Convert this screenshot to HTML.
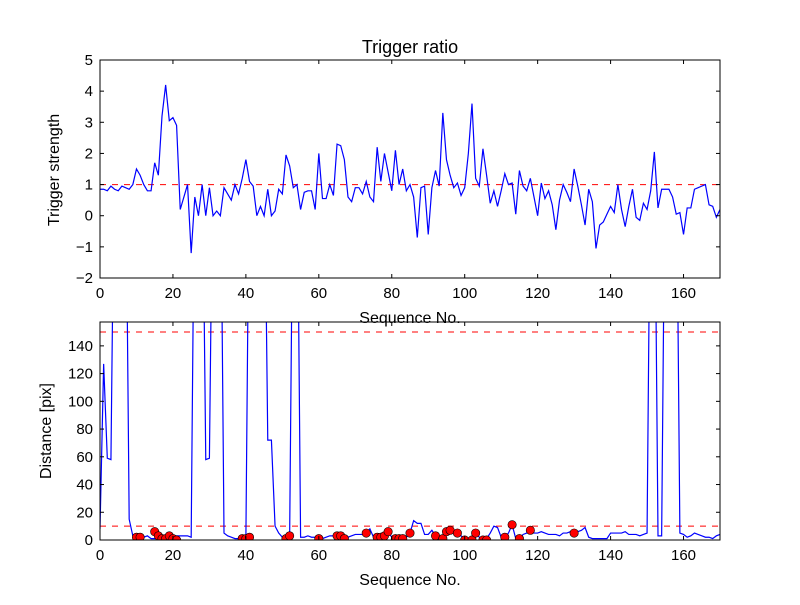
<!DOCTYPE html>
<html><head><meta charset="utf-8"><style>
body{margin:0;background:#fff}
svg text{font-family:"Liberation Sans","DejaVu Sans",sans-serif;fill:#000}
</style></head><body>
<svg id="s" width="800" height="600" xmlns="http://www.w3.org/2000/svg"></svg>
<script>
const S=document.getElementById('s');const NS='http://www.w3.org/2000/svg';
function el(t,a,txt){const e=document.createElementNS(NS,t);for(const k in a)e.setAttribute(k,a[k]);if(txt!=null)e.textContent=txt;S.appendChild(e);return e;}
const L=100,R=720;const xs=i=>L+i*(R-L)/170;
const T=[0.85,0.85,0.8,0.95,0.85,0.8,0.95,0.9,0.85,1.0,1.5,1.3,1.0,0.8,0.8,1.7,1.3,3.2,4.2,3.05,3.15,2.9,0.2,0.6,1.0,-1.2,0.6,0.0,1.0,0.0,0.9,0.0,0.15,0.0,0.9,0.7,0.5,1.0,0.7,1.2,1.8,1.1,0.95,0.0,0.3,0.0,0.85,0.0,0.15,0.85,0.7,1.95,1.6,0.9,1.0,0.2,0.75,0.8,0.8,0.2,2.0,0.55,0.55,1.0,0.65,2.3,2.25,1.8,0.6,0.45,0.9,0.9,0.7,1.1,0.6,0.45,2.2,1.1,2.0,1.4,0.8,2.1,1.0,1.5,0.8,1.0,0.6,-0.7,0.9,0.95,-0.6,0.9,1.45,0.95,3.3,1.8,1.3,0.9,1.05,0.65,0.9,2.0,3.6,1.2,0.95,2.15,1.3,0.4,0.8,0.3,0.8,1.35,1.0,1.05,0.05,1.45,0.95,0.8,1.2,0.6,0.0,1.05,0.55,0.8,0.35,-0.45,0.5,1.0,0.75,0.45,1.5,0.95,0.35,-0.3,0.85,0.45,-1.05,-0.3,-0.2,0.05,0.3,0.1,1.0,0.2,-0.35,0.3,0.85,-0.05,-0.15,0.4,0.2,0.8,2.05,0.25,0.85,0.85,0.85,0.6,0.05,0.1,-0.6,0.25,0.25,0.85,0.9,0.95,1.0,0.35,0.3,-0.05,0.2];
const ty=v=>60+(5-v)*218/7;
const T1=60,T2=278,B1=322,B2=540;
const by=v=>540-v*208/150;
el('defs',{}).innerHTML='<clipPath id="c1"><rect x="100" y="60" width="620" height="218"/></clipPath><clipPath id="c2"><rect x="100" y="322" width="620" height="218"/></clipPath>';
el('line',{x1:L,x2:R,y1:ty(1),y2:ty(1),stroke:'#f00','stroke-dasharray':'6,6','stroke-width':1});
el('polyline',{points:T.map((v,i)=>xs(i)+','+ty(v)).join(' '),fill:'none',stroke:'#00f','stroke-width':1.2,'clip-path':'url(#c1)'});
const B=new Array(171).fill(3);
const set=(o)=>{for(const k in o)B[k]=o[k];};
set({0:8,1:127,2:59,3:58,4:300,5:300,6:300,7:300,8:15,9:3,10:2,11:2,12:2,13:3,14:1,15:1,16:3,17:3,18:3,19:3,20:3,21:3,22:3,23:3,24:3,25:2,26:300,27:300,28:300,29:58,30:59,31:300,32:300,33:300,34:5,35:3,36:2,37:1,38:1,39:1,40:1,41:300,42:300,43:300,44:300,45:300,46:72,47:72,48:10,49:5,50:2,51:1,52:3,53:300,54:300,55:2,56:2,57:3,58:2,59:2,60:2,61:1,62:2,63:3,64:3,65:3,66:3,67:1,68:2,69:3,70:4,71:4,72:4,73:5,74:8,75:2,76:2,77:2,78:3,79:6,80:2,81:1,82:1,83:1,84:2,85:5,86:14,87:12,88:12,89:4,90:4,91:7,92:3,93:2,94:1,95:6,96:7,97:5,98:5,99:3,100:1,101:0,102:0,103:5,104:2,105:1,106:1,107:5,108:10,109:9,110:2,111:2,112:5,113:11,114:1,115:1,116:4,117:5,118:7,119:5,120:5,121:6,122:5,123:4,124:4,125:4,126:3,127:5,128:5,129:6,130:5,131:6,132:7,133:9,134:2,135:1,136:1,137:1,138:1,139:1,140:5,141:5,142:5,143:5,144:6,145:4,146:4,147:4,148:3,149:4,150:5,151:300,152:300,153:3,154:3,155:300,156:300,157:300,158:300,159:5,160:4,161:2,162:3,163:5,164:4,165:3,166:2,167:2,168:1,169:3,170:4});
el('line',{x1:L,x2:R,y1:by(150),y2:by(150),stroke:'#f00','stroke-dasharray':'6,6','stroke-width':1});
el('line',{x1:L,x2:R,y1:by(10),y2:by(10),stroke:'#f00','stroke-dasharray':'6,6','stroke-width':1});
el('polyline',{points:B.map((v,i)=>xs(i)+','+by(v)).join(' '),fill:'none',stroke:'#00f','stroke-width':1.2,'clip-path':'url(#c2)'});
const D=[[10,2],[11,2],[15,6],[16,3],[17,1],[18,1],[19,3],[20,1],[21,0],[39,1],[40,1],[41,2],[51,1],[52,3],[60,1],[65,3],[66,3],[67,1],[73,5],[76,2],[77,2],[78,3],[79,6],[81,1],[82,1],[83,1],[85,5],[92,3],[94,1],[95,6],[96,7],[98,5],[100,0],[102,0],[103,5],[105,0],[106,0],[111,2],[113,11],[115,1],[118,7],[130,5]];
const g=el('g',{'clip-path':'url(#c2)'});
D.forEach(([i,v])=>{const c=document.createElementNS(NS,'circle');c.setAttribute('cx',xs(i));c.setAttribute('cy',by(v));c.setAttribute('r',4.2);c.setAttribute('fill','#f00');c.setAttribute('stroke','#000');c.setAttribute('stroke-width',0.6);g.appendChild(c);});
function axes(y1,y2,yt,yf){
 el('rect',{x:L,y:y1,width:R-L,height:y2-y1,fill:'none',stroke:'#000','stroke-width':1});
 for(let v=0;v<=160;v+=20){const x=xs(v);el('line',{x1:x,x2:x,y1:y2,y2:y2-4,stroke:'#000'});el('line',{x1:x,x2:x,y1:y1,y2:y1+4,stroke:'#000'});el('text',{x:x,y:y2+20,'font-size':15,'text-anchor':'middle'},String(v));}
 yt.forEach(v=>{const y=yf(v);el('line',{x1:L,x2:L+4,y1:y,y2:y,stroke:'#000'});el('line',{x1:R,x2:R-4,y1:y,y2:y,stroke:'#000'});el('text',{x:L-7,y:y+5,'font-size':15,'text-anchor':'end'},v<0?'\u2212'+(-v):String(v));});
}
axes(T1,T2,[-2,-1,0,1,2,3,4,5],ty);
axes(B1,B2,[0,20,40,60,80,100,120,140],by);
el('text',{x:410,y:53,'font-size':18,'text-anchor':'middle'},'Trigger ratio');
el('text',{x:410,y:323,'font-size':16,'text-anchor':'middle'},'Sequence No.');
el('text',{x:410,y:585,'font-size':16,'text-anchor':'middle'},'Sequence No.');
el('text',{x:59,y:170,'font-size':16,'text-anchor':'middle',transform:'rotate(-90 59 170)'},'Trigger strength');
el('text',{x:51,y:431,'font-size':16,'text-anchor':'middle',transform:'rotate(-90 51 431)'},'Distance [pix]');
</script>
</body></html>
